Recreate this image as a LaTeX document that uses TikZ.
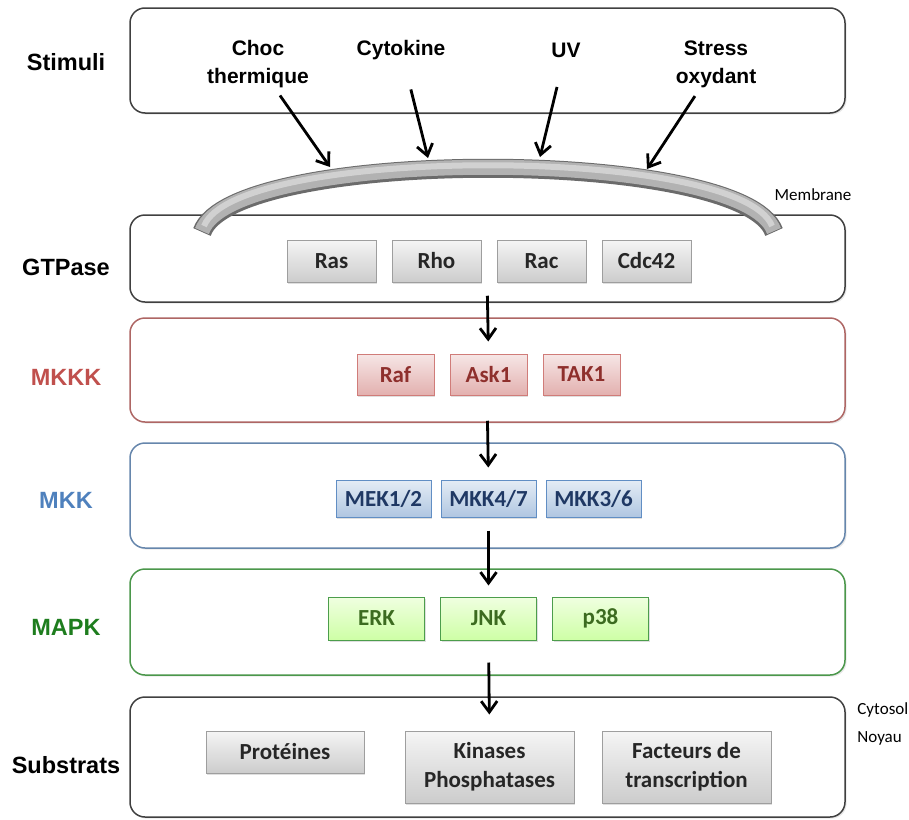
\documentclass[tikz,border=0pt]{standalone}
\usepackage{fontspec}
\setmainfont{Liberation Sans}
\newfontfamily\calibri{Carlito}
\usepackage{xcolor}
\usepackage{tikz}
\usetikzlibrary{positioning}
\usetikzlibrary{arrows.meta}
\usetikzlibrary{shadows}

\definecolor{rouge}{HTML}{C0504D}
\definecolor{bleu}{HTML}{4F81BD}
\definecolor{vert}{HTML}{1E7D1E}
\definecolor{rougetxt}{HTML}{8E2F2C}
\definecolor{bleutxt}{HTML}{1F3864}
\definecolor{verttxt}{HTML}{3C6B20}

\begin{document}
\begin{tikzpicture}[x=0.5pt, y=0.5pt]

                \def\g{7.5pt}
                \def\gm{4.5pt}

                % Styles of the layers, of the small boxes and of the arrows
                \tikzset{
                  layer/.style={draw=#1, line width=0.75pt, rounded corners=7.5pt,
                    fill=white, minimum width=357.5pt, inner sep=0pt,
                    drop shadow={opacity=0.18, shadow xshift=0.8pt, shadow yshift=-0.8pt}},
                  lab/.style={font=\bfseries\fontsize{11.75}{14}\selectfont},
                  stim/.style={font=\bfseries\fontsize{10.5}{14}\selectfont,
                    align=center, inner sep=2pt},
                  petit/.style={font=\calibri\fontsize{8.5}{10}\selectfont, inner sep=1pt},
                  kbox/.style={rectangle, inner sep=0pt, line width=0.5pt, align=center,
                    font=\calibri\bfseries\fontsize{11.5}{14.5}\selectfont,
                    drop shadow={opacity=0.25, shadow xshift=0.7pt, shadow yshift=-0.9pt}},
                  grisbox/.style={kbox, draw=black!38, top color=black!4,
                    bottom color=black!20, text=black!85},
                  rosebox/.style={kbox, draw=rouge!75, top color=rouge!14,
                    bottom color=rouge!45, text=rougetxt},
                  bleubox/.style={kbox, draw=bleu!90, top color=bleu!15,
                    bottom color=bleu!45, text=bleutxt},
                  vertbox/.style={kbox, draw=green!45!black!70, top color=green!50!yellow!12,
                    bottom color=green!55!yellow!35, text=verttxt},
                  fleche/.style={-{Straight Barb[length=5.5pt, width=8pt]}, line width=1.4pt},
                }

                \useasboundingbox (0,0) rectangle (909,-819);

                % Layers
                \node (stimbox) [layer=black!75, minimum height=52.5pt] at (487.5,-60.5) {};
                \node (gtpbox) [layer=black!75, minimum height=43.5pt] at (487.5,-258.5) {};
                \node (mkkkbox) [layer=rouge!80!black!80, minimum height=52pt] at (487.5,-370) {};
                \node (mkkbox) [layer=bleu!80!black!80, minimum height=52.5pt] at (487.5,-495.5) {};
                \node (mapkbox) [layer=vert!80!white, minimum height=53pt] at (487.5,-622) {};
                \node (subbox) [layer=black!75, minimum height=60pt] at (487.5,-757) {};

                % Left labels
                \node (lstim) [lab] at (66,-62) {Stimuli};
                \node (lgtp) [lab] at (66,-267) {GTPase};
                \node (lmkkk) [lab, text=rouge] at (66,-377) {MKKK};
                \node (lmkk) [lab, text=bleu] at (66,-500) {MKK};
                \node (lmapk) [lab, text=vert] at (66,-627) {MAPK};
                \node (lsub) [lab] at (66,-765) {Substrats};

                % Stimuli
                \node (choc) [stim] at (258,-64) {Choc\\thermique};
                \node (cyto) [stim] at (401,-50) {Cytokine};
                \node (uv) [stim] at (566,-50) {UV};
                \node (stress) [stim] at (716,-64) {Stress\\oxydant};

                % Membrane
                \draw[line width=9.5pt, black!58] (202,-232) .. controls (232,-147) and (744,-147) .. (774,-232);
                \draw[line width=7.5pt, black!30] (202,-231) .. controls (232,-146) and (744,-146) .. (774,-231);
                \draw[line width=3pt, black!18] (204,-226) .. controls (236,-145) and (740,-145) .. (772,-226);
                \coordinate (m1) at (330,-167);
                \coordinate (m2) at (428,-158);
                \coordinate (m3) at (540,-157);
                \coordinate (m4) at (647,-169);

                \node (memb) [petit] at (813,-195) {Membrane};
                \node (cytosol) [petit, anchor=west] at (855,-710) {Cytosol};
                \node (noyau) [petit, anchor=west] at (855,-738) {Noyau};

                % GTPase
                \node (ras) [grisbox, minimum width=44.5pt, minimum height=21pt] at (331.5,-261) {Ras};
                \node (rho) [grisbox, minimum width=44.5pt, minimum height=21pt, right=\g of ras] {Rho};
                \node (rac) [grisbox, minimum width=44.5pt, minimum height=21pt, right=\g of rho] {Rac};
                \node (cdc) [grisbox, minimum width=44.5pt, minimum height=21pt, right=\g of rac] {Cdc42};

                % MKKK
                \node (raf) [rosebox, minimum width=38.5pt, minimum height=20.5pt] at (395.5,-374.5) {Raf};
                \node (ask1) [rosebox, minimum width=38.5pt, minimum height=20.5pt, right=\g of raf] {Ask1};
                \node (tak1) [rosebox, minimum width=38.5pt, minimum height=20.5pt, right=\g of ask1] {TAK1};

                % MKK
                \node (mek12) [bleubox, minimum width=47.5pt, minimum height=18.5pt] at (383.5,-498.5) {MEK1/2};
                \node (mkk47) [bleubox, minimum width=47.5pt, minimum height=18.5pt, right=\gm of mek12] {MKK4/7};
                \node (mkk36) [bleubox, minimum width=47.5pt, minimum height=18.5pt, right=\gm of mkk47] {MKK3/6};

                % MAPK
                \node (erk) [vertbox, minimum width=48pt, minimum height=21.5pt] at (376.5,-618.5) {ERK};
                \node (jnk) [vertbox, minimum width=48pt, minimum height=21.5pt, right=\g of erk] {JNK};
                \node (p38) [vertbox, minimum width=48pt, minimum height=21.5pt, right=\g of jnk] {p38};

                % Substrats
                \node (prot) [grisbox, minimum width=79pt, minimum height=21pt] at (285,-752) {Protéines};
                \node (kin) [grisbox, minimum width=84.5pt, minimum height=36pt,
                  right=20pt of prot.north east, anchor=north west] {Kinases\\Phosphatases};
                \node (fact) [grisbox, minimum width=84.5pt, minimum height=36pt, right=13.5pt of kin]
                  {Facteurs de\\transcription};

                \begin{scope}[fleche]
                    \draw[shorten <=2pt] (choc) -- (m1);
                    \draw[shorten <=13pt] (cyto) -- (m2);
                    \draw[shorten <=13pt] (uv) -- (m3);
                    \draw[shorten <=2.5pt] (stress) -- (m4);
                    \draw[shorten <=-3.5pt, shorten >=6pt] (gtpbox.south) -- (ask1.north);
                    \draw[shorten <=-1pt, shorten >=6pt] (mkkkbox.south) -- (mkk47.north);
                    \draw[shorten <=6.5pt, shorten >=5.5pt] (mkk47.south) -- (jnk.north);
                    \draw[shorten <=11pt, shorten >=8pt] (jnk.south) -- (kin.north);
                \end{scope}

\end{tikzpicture}
\end{document}
